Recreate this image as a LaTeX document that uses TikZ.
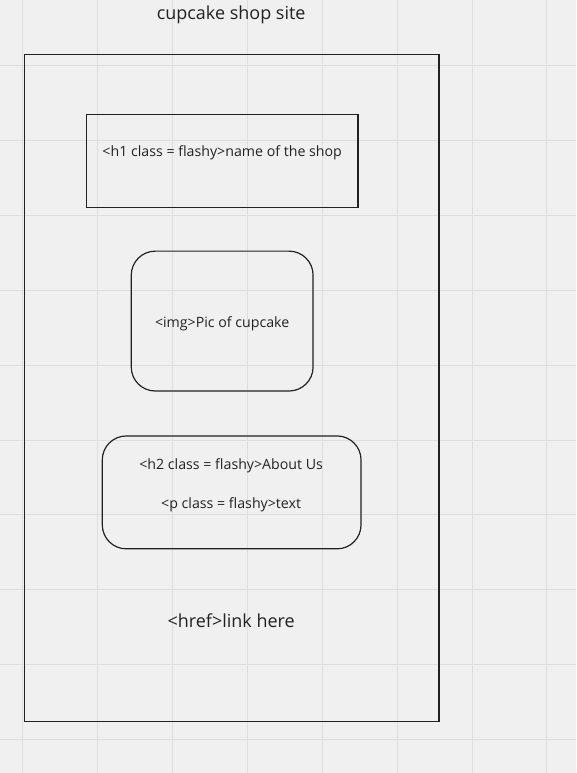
\documentclass[tikz,border=0pt]{standalone}
\usepackage{fontspec}
\setmainfont{Open Sans}
\definecolor{boardgray}{HTML}{F0F0F0}
\definecolor{gridgray}{HTML}{DEDEDE}
\definecolor{inkgray}{HTML}{222222}
\tikzset{
  tag/.style={text=inkgray, font=\fontsize{14.2}{17}\selectfont, inner sep=0pt},
  bigtag/.style={text=inkgray, font=\fontsize{18}{21}\selectfont, inner sep=0pt},
  frame/.style={draw=inkgray, line width=1.2pt},
  softframe/.style={draw=inkgray, line width=1.2pt, rounded corners=24pt}
}
\begin{document}
\begin{tikzpicture}[x=1pt,y=-1pt]
\fill[boardgray] (0,0) rectangle (576,773);
\foreach \gx in {22,97,172,247,322,397,472,547} \draw[gridgray, line width=0.8pt] (\gx,0) -- (\gx,773);
\foreach \gy in {65,140,215,290,365,440,515,590,665,740} \draw[gridgray, line width=0.8pt] (0,\gy) -- (576,\gy);
\node[bigtag] (title) at (231,14.5) {cupcake shop site};
\draw[frame] (24,54) rectangle (439,722);
\draw[frame] (86,114) rectangle (358,207);
\node[tag] (heading) at (222,152.5) {<h1 class = flashy>name of the shop};
\draw[softframe] (131,251) rectangle (313,391);
\node[tag] (picture) at (222,323.5) {<img>Pic of cupcake};
\draw[softframe] (102,436) rectangle (361,549);
\node[tag] (about) at (231,465.5) {<h2 class = flashy>About Us};
\node[tag] (para) at (231,504.5) {<p class = flashy>text};
\node[bigtag] (link) at (231,620.5) {<href>link here};
\end{tikzpicture}
\end{document}
